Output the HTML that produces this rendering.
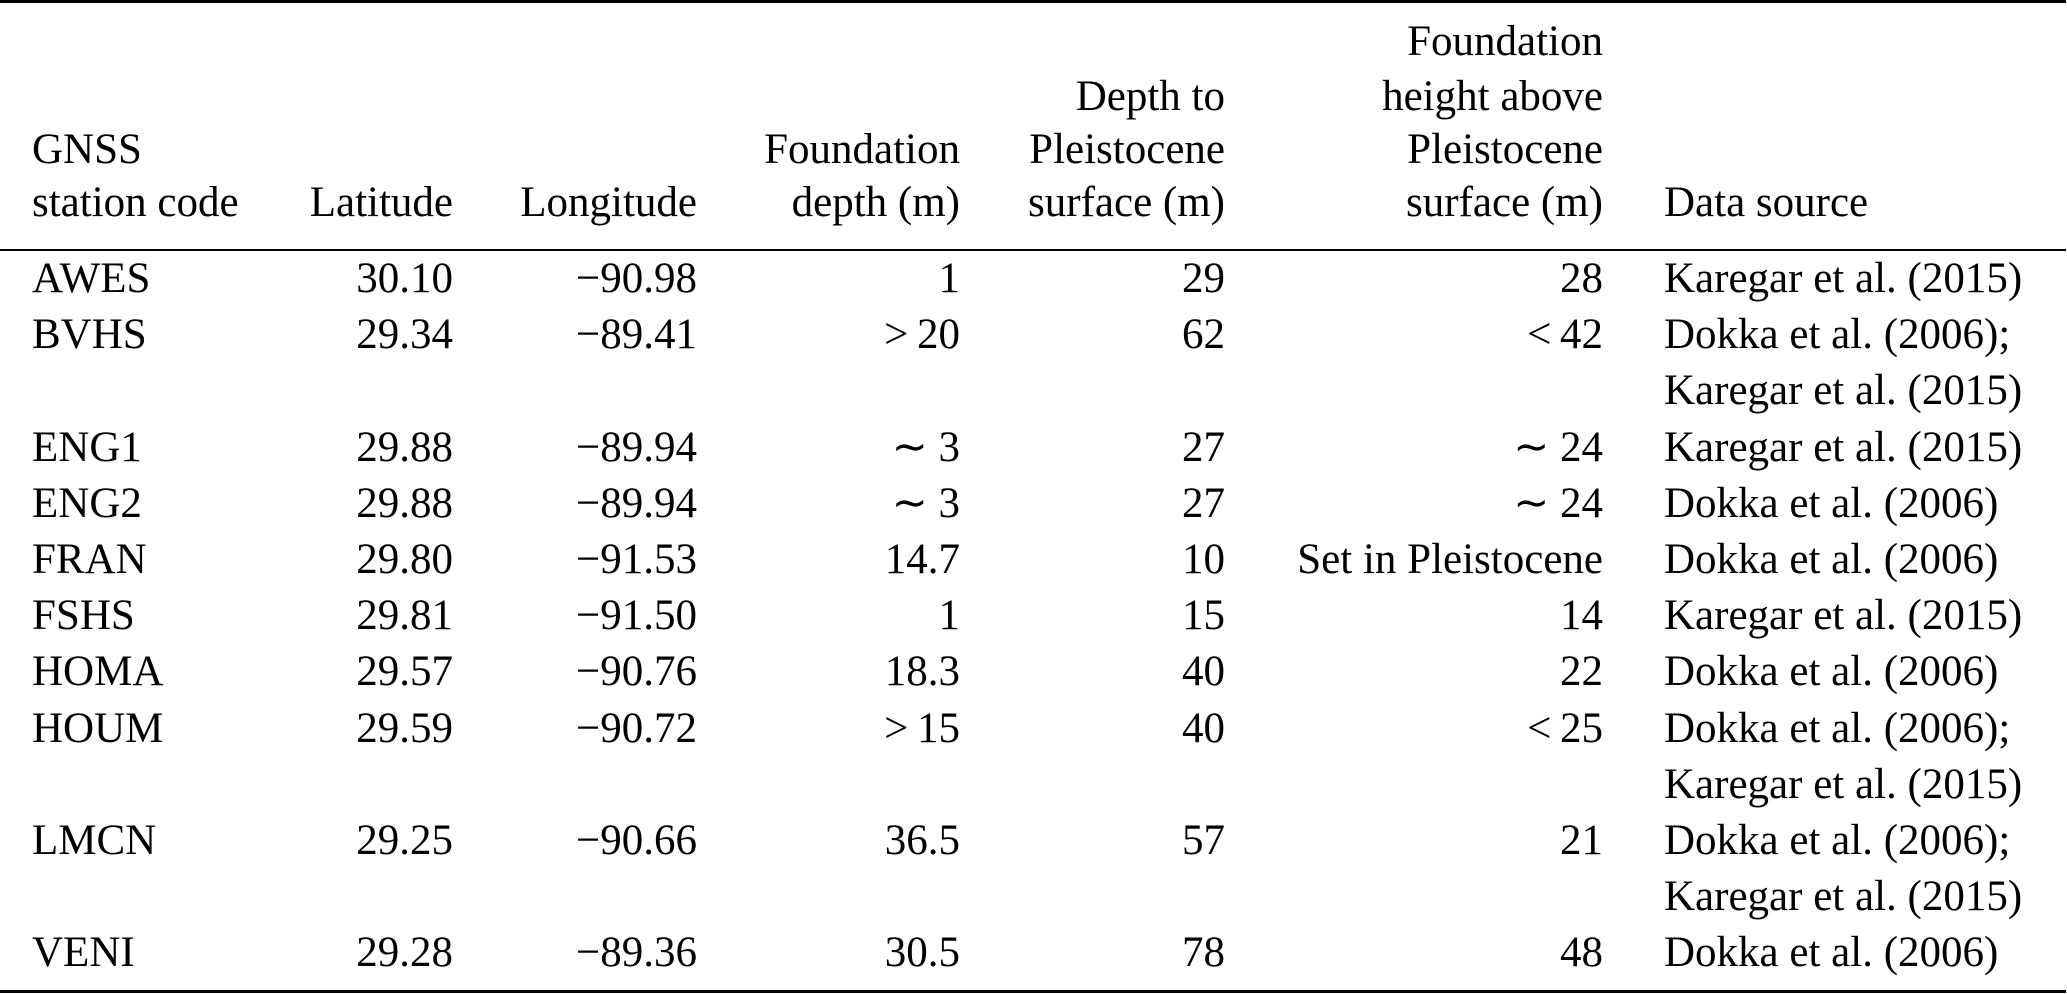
<!DOCTYPE html>
<html><head><meta charset="utf-8"><style>
html,body{margin:0;padding:0;background:#fff;}
body{width:2067px;height:994px;position:relative;overflow:hidden;font-family:"Liberation Serif",serif;font-size:43px;color:#000;}
.t{position:absolute;height:56px;line-height:56px;white-space:nowrap;}
.r{text-align:right;}
.rule{position:absolute;left:0;width:2066px;background:#000;}
</style></head><body>
<div class="rule" style="top:0;height:3px"></div>
<div class="rule" style="top:249px;height:2px"></div>
<div class="rule" style="top:990px;height:3px"></div>
<div id="c"></div>
<script>
var c=document.getElementById('c');
function put(txt,x,y,right){var d=document.createElement('div');d.className='t'+(right?' r':'');d.textContent=txt;d.style.top=(y-28)+'px';if(right){d.style.right=(2067-x)+'px';}else{d.style.left=x+'px';}c.appendChild(d);}
var H=[42,97,150,203];
put('GNSS',32,H[2]);put('station code',32,H[3]);
put('Latitude',453,H[3],1);put('Longitude',697,H[3],1);
put('Foundation',960,H[2],1);put('depth (m)',960,H[3],1);
put('Depth to',1225,H[1],1);put('Pleistocene',1225,H[2],1);put('surface (m)',1225,H[3],1);
put('Foundation',1603,H[0],1);put('height above',1603,H[1],1);put('Pleistocene',1603,H[2],1);put('surface (m)',1603,H[3],1);
put('Data source',1664,H[3]);
var rows=[
['AWES','30.10','\u221290.98','1','29','28','Karegar et al. (2015)'],
['BVHS','29.34','\u221289.41','>\u200920','62','<\u200942','Dokka et al. (2006);'],
['','','','','','','Karegar et al. (2015)'],
['ENG1','29.88','\u221289.94','\u223c 3','27','\u223c 24','Karegar et al. (2015)'],
['ENG2','29.88','\u221289.94','\u223c 3','27','\u223c 24','Dokka et al. (2006)'],
['FRAN','29.80','\u221291.53','14.7','10','Set in Pleistocene','Dokka et al. (2006)'],
['FSHS','29.81','\u221291.50','1','15','14','Karegar et al. (2015)'],
['HOMA','29.57','\u221290.76','18.3','40','22','Dokka et al. (2006)'],
['HOUM','29.59','\u221290.72','>\u200915','40','<\u200925','Dokka et al. (2006);'],
['','','','','','','Karegar et al. (2015)'],
['LMCN','29.25','\u221290.66','36.5','57','21','Dokka et al. (2006);'],
['','','','','','','Karegar et al. (2015)'],
['VENI','29.28','\u221289.36','30.5','78','48','Dokka et al. (2006)']];
var xs=[32,453,697,960,1225,1603,1664];var rt=[0,1,1,1,1,1,0];
rows.forEach(function(r,i){var y=279+i*56.2;r.forEach(function(v,j){if(v)put(v,xs[j],y,rt[j]);});});
</script>
</body></html>
